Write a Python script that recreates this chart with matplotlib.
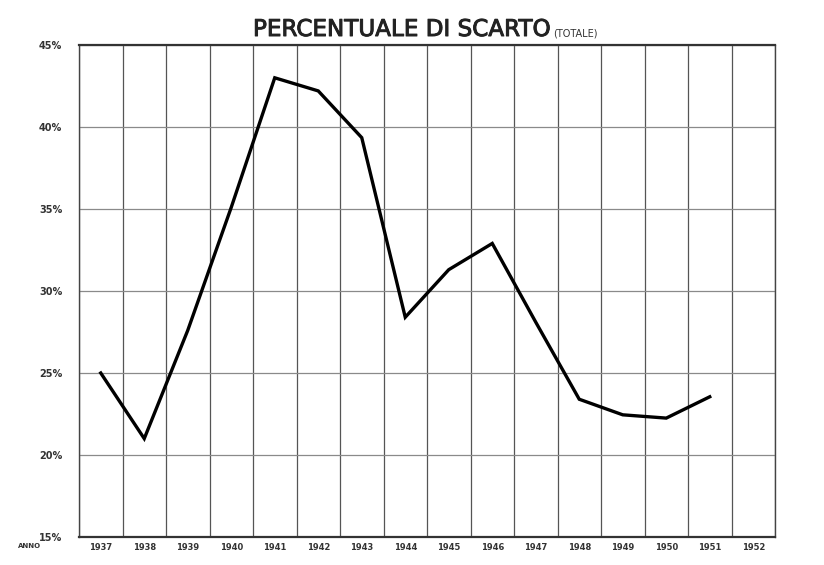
import matplotlib
matplotlib.use("Agg")
import matplotlib.pyplot as plt
import matplotlib.patheffects as pe
import numpy as np

years = [1937, 1938, 1939, 1940, 1941, 1942, 1943, 1944, 1945, 1946, 1947, 1948, 1949, 1950, 1951]
scarto = [25.0, 21.0, 27.6, 35.1, 43.0, 42.2, 39.35, 28.4, 31.3, 32.9, 28.1, 23.4, 22.45, 22.25, 23.55]
year_labels = [str(y) for y in range(1937, 1953)]
y_ticks = [15, 20, 25, 30, 35, 40, 45]
y_labels = ["15%", "20%", "25%", "30%", "35%", "40%", "45%"]

fig = plt.figure(figsize=(8.24, 5.65), dpi=100)
ax = fig.add_axes([79/824, 1-537/565, (775-79)/824, (537-45)/565])

ax.set_xlim(1936.5, 1952.5)
ax.set_ylim(15, 45)

# grid
for xv in np.arange(1936.5, 1953.0, 1.0):
    ax.axvline(xv, color="#555555", lw=0.9, zorder=1)
for yv in y_ticks:
    ax.axhline(yv, color="#8a8a8a", lw=0.9, zorder=1)

ax.plot(years, scarto, color="black", lw=2.4, solid_joinstyle="miter", zorder=3)

ax.set_xticks(range(1937, 1953))
ax.set_xticklabels(year_labels, fontsize=6, color="#333333", fontweight="bold")
ax.set_yticks(y_ticks)
ax.set_yticklabels(y_labels, fontsize=7, color="#333333", fontweight="bold")
ax.tick_params(axis="y", length=0, pad=12)
ax.tick_params(axis="x", length=0, pad=4)

for s in ["left", "right"]:
    ax.spines[s].set_linewidth(1.0)
    ax.spines[s].set_color("#444444")
ax.spines["top"].set_linewidth(1.6)
ax.spines["bottom"].set_linewidth(1.6)
ax.spines["top"].set_color("#333333")
ax.spines["bottom"].set_color("#333333")

fig.text(18/824, 1-548/565, "ANNO", fontsize=5, color="#333333", ha="left", va="baseline",
         fontweight="bold")

fig.text(253/824, 1-36/565, "PERCENTUALE DI SCARTO", fontsize=16.6, color="#222222",
         ha="left", va="baseline", family="DejaVu Sans",
         path_effects=[pe.withStroke(linewidth=0.7, foreground="#222222")])
fig.text(553/824, 1-36/565, "(TOTALE)", fontsize=7, color="#333333", ha="left", va="baseline")

fig.savefig("out.png", dpi=100, facecolor="white")
